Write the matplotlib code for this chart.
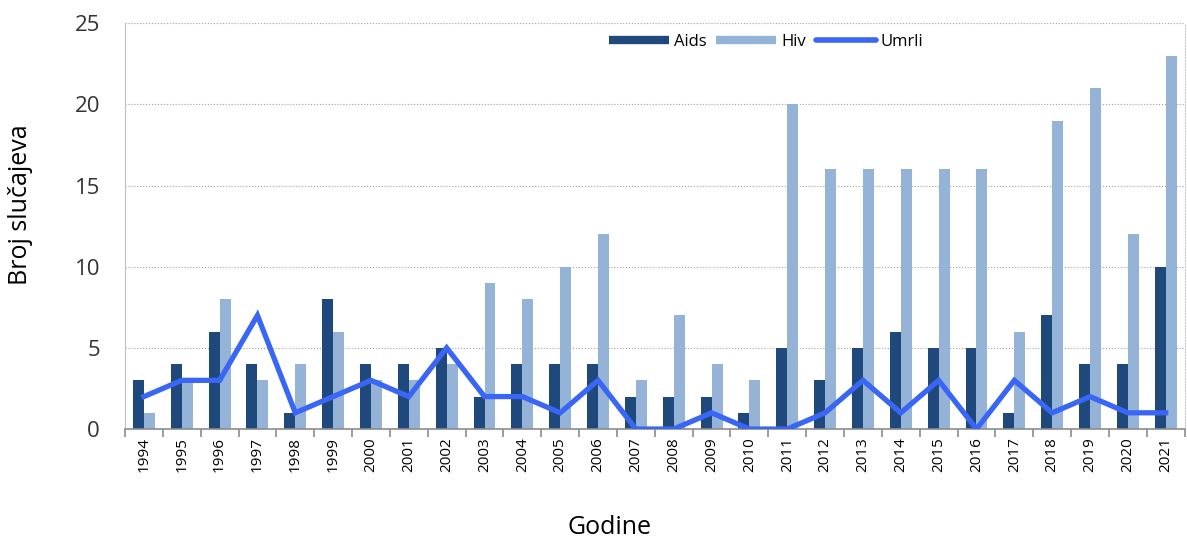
import numpy as np
import matplotlib.pyplot as plt
from matplotlib.lines import Line2D

godine = [str(y) for y in range(1994, 2022)]
aids = [3, 4, 6, 4, 1, 8, 4, 4, 5, 2, 4, 4, 4, 2, 2, 2, 1, 5, 3, 5, 6, 5, 5, 1, 7, 4, 4, 10]
hiv = [1, 3, 8, 3, 4, 6, 3, 3, 4, 9, 8, 10, 12, 3, 7, 4, 3, 20, 16, 16, 16, 16, 16, 6, 19, 21, 12, 23]
umrli = [2, 3, 3, 7, 1, 2, 3, 2, 5, 2, 2, 1, 3, 0, 0, 1, 0, 0, 1, 3, 1, 3, 0, 3, 1, 2, 1, 1]

c_aids, c_hiv, c_umrli = '#1F497D', '#95B3D7', '#3A66F5'

plt.rcParams['font.family'] = ['Open Sans', 'DejaVu Sans']

fig = plt.figure(figsize=(11.87, 5.39), dpi=100)
ax = fig.add_axes([0.1053, 0.204, 0.8927, 0.753])

x = np.arange(len(godine))
w = 0.29
ax.bar(x - w / 2, aids, w, color=c_aids, zorder=2)
ax.bar(x + w / 2, hiv, w, color=c_hiv, zorder=2)
ax.plot(x, umrli, color=c_umrli, lw=3.8, zorder=3, solid_joinstyle='miter')

ax.set_xlim(-0.5, len(godine) - 0.5)
ax.set_ylim(0, 25)
ax.set_yticks(range(0, 26, 5))
ax.yaxis.grid(True, color='#a0a0a0', linestyle=':', lw=0.8, zorder=0)
ax.tick_params(axis='y', length=0, labelsize=16, pad=18, colors='#333333')

ax.set_xticks(x)
ax.set_xticklabels(godine, rotation=90, fontsize=11)
ax.set_xticks(np.arange(-0.5, len(godine), 1), minor=True)
ax.tick_params(axis='x', which='major', length=0, pad=6)
ax.tick_params(axis='x', which='minor', length=6, width=1.2, color='#8c8c8c')

ax.spines['top'].set_visible(False)
ax.spines['right'].set_color('#c8c8c8')
ax.spines['right'].set_linestyle(':')
ax.spines['left'].set_color('#c0c0c0')
ax.spines['bottom'].set_color('#8c8c8c')
ax.spines['bottom'].set_linewidth(1.2)

ax.set_ylabel('Broj slučajeva', fontsize=18)
ax.yaxis.set_label_coords(-0.087, 0.552)
ax.set_xlabel('Godine', fontsize=18)
ax.xaxis.set_label_coords(0.457, -0.212)

handles = [
    Line2D([], [], color=c_aids, lw=6, solid_capstyle='butt'),
    Line2D([], [], color=c_hiv, lw=6, solid_capstyle='butt'),
    Line2D([], [], color=c_umrli, lw=4, solid_capstyle='round'),
]
ax.legend(handles, ['Aids', 'Hiv', 'Umrli'], loc='upper center', bbox_to_anchor=(0.605, 1.01),
          ncol=3, frameon=False, fontsize=12, handlelength=3.6, handletextpad=0.3,
          columnspacing=0.6)

fig.savefig('out.png', dpi=100)
